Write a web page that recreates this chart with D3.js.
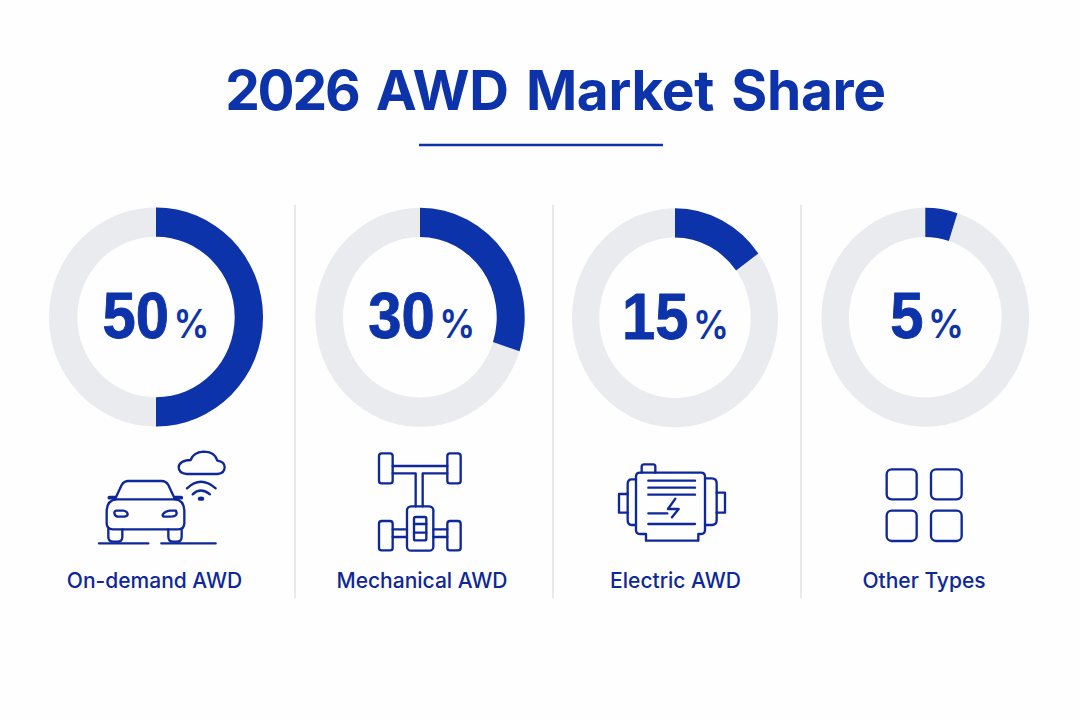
<!DOCTYPE html>
<html>
<head>
<meta charset="utf-8">
<script src="https://cdn.jsdelivr.net/npm/d3@7/dist/d3.min.js"></script>
<style>
  html, body { margin: 0; padding: 0; background: #fefefe; }
  svg { display: block; }
  text { font-family: Inter, "Liberation Sans", sans-serif; }
</style>
</head>
<body>
<svg id="chart" width="1080" height="720"></svg>
<script>
// Market share per drivetrain type
const categories = ["On-demand AWD", "Mechanical AWD", "Electric AWD", "Other Types"];
const shares = [50, 30, 15, 5];
const titleYear = "2026";
const titleRest = "AWD Market Share";

// Ring geometry: the rings are slightly narrower than they are tall
const ringCentres = [[156, 317], [420, 317.3], [675, 317.8], [925.3, 317.3]];
const ringRadiiX = [107, 104.7, 103, 103.8];
const ringRadiiY = 109.5;
const holeRatio = 0.733;
const figureNudges = [0, 2, 0.5, 2];
const labelCentres = [154.5, 422, 675.5, 924];
const dividerXs = [295, 553, 801];

const BLUE = "#0d33aa";
const INK = "#0e2799";
const TRACK = "#e9ebef";

const svg = d3.select("#chart");
const angle = d3.scaleLinear().domain([0, 100]).range([0, 2 * Math.PI]);
const arc = d3.arc().innerRadius(ringRadiiY * holeRatio).outerRadius(ringRadiiY);

// Title and rule beneath it
const title = svg.append("text")
  .attr("x", 555.5).attr("y", 110)
  .attr("text-anchor", "middle")
  .attr("font-size", 55).attr("font-weight", 700)
  .attr("word-spacing", 4.5)
  .attr("letter-spacing", -0.3)
  .attr("fill", BLUE);
title.append("tspan").attr("letter-spacing", -2.2).text(titleYear);
title.append("tspan").text(" " + titleRest);
svg.append("line")
  .attr("x1", 419).attr("x2", 663).attr("y1", 145).attr("y2", 145)
  .attr("stroke", BLUE).attr("stroke-width", 2.4);

// Column dividers
svg.selectAll("line.divider").data(dividerXs).join("line")
  .attr("class", "divider")
  .attr("x1", d => d).attr("x2", d => d)
  .attr("y1", 205).attr("y2", 598)
  .attr("stroke", "#d9dbe0").attr("stroke-width", 1.2);

// One donut per category
const rings = svg.selectAll("g.ring").data(shares).join("g")
  .attr("class", "ring")
  .attr("transform", (d, i) => `translate(${ringCentres[i]})`);

rings.append("path")
  .attr("transform", (d, i) => `scale(${ringRadiiX[i] / ringRadiiY},1)`)
  .attr("fill", TRACK)
  .attr("d", arc({ startAngle: 0, endAngle: 2 * Math.PI }));
rings.append("path")
  .attr("transform", (d, i) => `scale(${ringRadiiX[i] / ringRadiiY},1)`)
  .attr("fill", BLUE)
  .attr("d", d => arc({ startAngle: angle(0), endAngle: angle(d) }));

// Centre figures are narrowed slightly as a unit
const values = rings.append("text")
  .attr("y", 21)
  .attr("x", (d, i) => figureNudges[i])
  .attr("transform", "scale(0.92,1)")
  .attr("text-anchor", "middle")
  .attr("fill", BLUE);
values.append("tspan")
  .attr("font-family", "'Liberation Sans', sans-serif")
  .attr("font-size", 65).attr("font-weight", 700)
  .attr("stroke", BLUE).attr("stroke-width", 0.9)
  .text(d => d);
values.append("tspan")
  .attr("dx", 5)
  .attr("font-size", 39).attr("font-weight", 600)
  .text("%");

// Category names
svg.selectAll("text.cat").data(categories).join("text")
  .attr("class", "cat")
  .attr("x", (d, i) => labelCentres[i]).attr("y", 588)
  .attr("text-anchor", "middle")
  .attr("font-size", 21).attr("font-weight", 500)
  .attr("fill", INK)
  .text(d => d);

// Line icons, each sketched on a 3x grid and scaled back down
function iconLayer(x, y) {
  return svg.append("g")
    .attr("transform", `translate(${x},${y}) scale(${1 / 3})`)
    .attr("fill", "none").attr("stroke", INK)
    .attr("stroke-width", 7)
    .attr("stroke-linejoin", "round").attr("stroke-linecap", "round");
}
function box(g, x0, y0, x1, y1, r) {
  g.append("rect").attr("x", x0).attr("y", y0)
    .attr("width", x1 - x0).attr("height", y1 - y0).attr("rx", r);
}

// Connected car
const car = iconLayer(80, 440);
[
  "M57 310H205M244 310H407",
  "M80 215Q80 180 110 178H285Q313 180 313 215V250Q313 268 295 268H98Q80 268 80 250Z",
  "M105 178L125 135Q132 123 145 123H245Q258 123 265 135L285 178",
  "M110 212H130Q143 214 143 224Q140 230 128 230H112Q103 226 103 218Q104 212 110 212Z",
  "M270 212H288Q291 218 289 224Q285 230 270 230H254Q248 230 248 224Q254 214 270 212Z",
  "M85 268V290Q85 305 100 305H112Q127 305 127 290V268",
  "M265 268V290Q265 305 280 305H290Q305 305 305 290V268",
  "M320 102H413Q434 100 434 82Q434 65 412 62Q405 35 370 35Q340 37 332 60Q297 62 296 82Q296 100 320 102Z",
  "M321 145Q362 105 407 145",
  "M338 163Q362 140 390 163"
].forEach(d => car.append("path").attr("d", d));
car.append("path").attr("d", "M88 173H106M285 173H304").attr("stroke-width", 11);
car.append("ellipse").attr("cx", 363).attr("cy", 176).attr("rx", 6).attr("ry", 3).attr("fill", INK);

// Drivetrain layout
const axle = iconLayer(340, 440);
[[117, 40, 158, 130], [322, 40, 362, 130], [117, 243, 158, 331], [322, 243, 362, 331]]
  .forEach(r => box(axle, r[0], r[1], r[2], r[3], 8));
box(axle, 201, 199, 280, 332, 12);
box(axle, 222, 231, 259, 301, 5);
[
  "M158 78H322",
  "M158 100H227V199M322 100H248V199",
  "M222 252H259M222 278H259",
  "M158 268H201M158 291H201M280 268H322M280 291H322"
].forEach(d => axle.append("path").attr("d", d));

// Electric motor
const motor = iconLayer(590, 450);
[
  "M138 80Q138 68 150 68H333Q345 68 345 80V240Q345 252 333 252H325V272H168V252H150Q138 252 138 240Z",
  "M155 68V50Q155 43 162 43H190Q196 43 196 50V68",
  "M138 88H125Q113 88 113 102V210Q113 225 125 225H138",
  "M345 85H365Q380 85 380 100V210Q380 225 365 225H345",
  "M113 132H87V188H113",
  "M380 128H405V188H380",
  "M175 92H315M175 113H315M175 134H315M175 190H232M175 222H315",
  "M256 146L234 177H266L246 202"
].forEach(d => motor.append("path").attr("d", d));

// Four-square grid
const grid = iconLayer(850, 450);
[[110, 58, 200, 148], [243, 58, 335, 148], [110, 182, 200, 273], [243, 182, 335, 273]]
  .forEach(r => box(grid, r[0], r[1], r[2], r[3], 15));
</script>
</body>
</html>
